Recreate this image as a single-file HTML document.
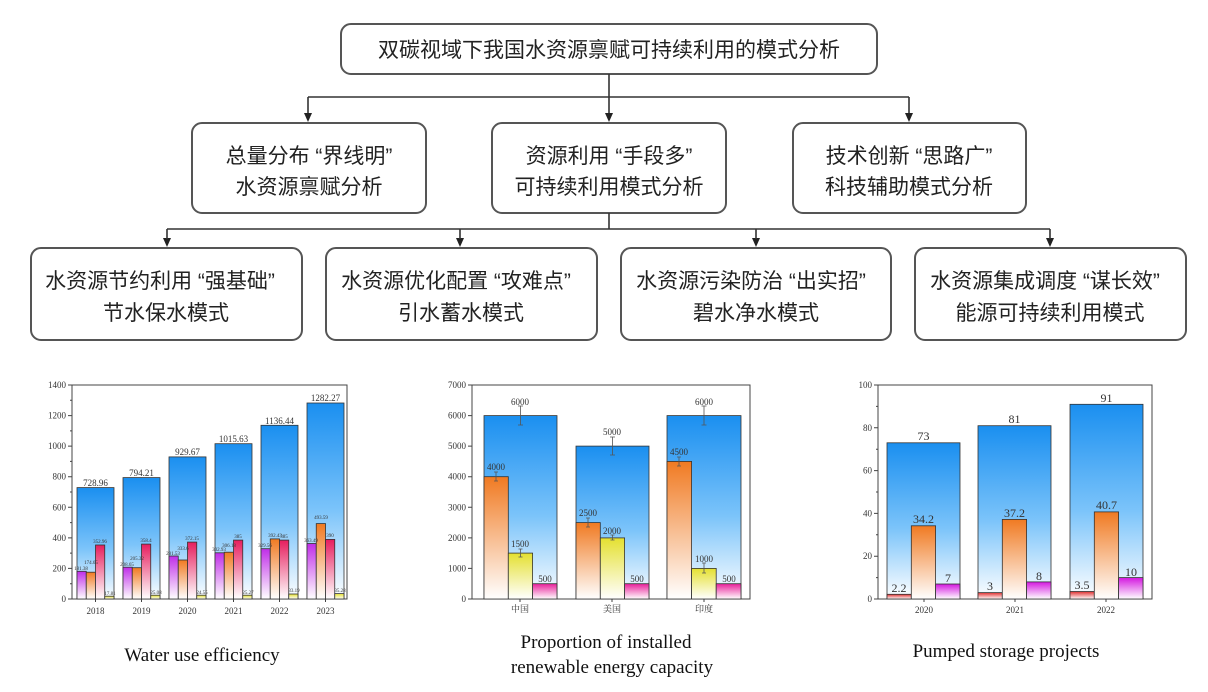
<!DOCTYPE html>
<html><head><meta charset="utf-8"><style>
html,body{margin:0;padding:0;background:#fff;}
svg{display:block;}
.b{fill:#fff;stroke:#555;stroke-width:2;}
.t{font-family:"Liberation Sans","Noto Sans CJK SC",sans-serif;font-size:21px;fill:#222;text-anchor:middle;}
.ax{font-family:"Liberation Serif","Noto Serif CJK SC",serif;font-size:9px;fill:#333;}
.v{font-family:"Liberation Serif",serif;font-size:5px;fill:#333;text-anchor:middle;}
.v2{font-family:"Liberation Serif",serif;font-size:9px;fill:#333;text-anchor:middle;}
.v3{font-family:"Liberation Serif",serif;font-size:12px;fill:#333;text-anchor:middle;}
.cap{font-family:"Liberation Serif",serif;font-size:19px;fill:#111;text-anchor:middle;}
.bar{stroke:#333;stroke-width:0.8;}
.ln{stroke:#333;stroke-width:1.6;fill:none;}
</style></head><body>
<svg width="1208" height="692" viewBox="0 0 1208 692" xmlns="http://www.w3.org/2000/svg">
<defs>
<linearGradient id="gB" x1="0" y1="0" x2="0" y2="1"><stop offset="0" stop-color="#1a8ff0"/><stop offset="0.55" stop-color="#7cc4fa"/><stop offset="1" stop-color="#ffffff"/></linearGradient>
<linearGradient id="gO" x1="0" y1="0" x2="0" y2="1"><stop offset="0" stop-color="#f07a22"/><stop offset="1" stop-color="#ffffff"/></linearGradient>
<linearGradient id="gP" x1="0" y1="0" x2="0" y2="1"><stop offset="0" stop-color="#c02ee8"/><stop offset="1" stop-color="#ffffff"/></linearGradient>
<linearGradient id="gR" x1="0" y1="0" x2="0" y2="1"><stop offset="0" stop-color="#e61e5e"/><stop offset="1" stop-color="#ffffff"/></linearGradient>
<linearGradient id="gY" x1="0" y1="0" x2="0" y2="1"><stop offset="0" stop-color="#e4e030"/><stop offset="1" stop-color="#ffffff"/></linearGradient>
<linearGradient id="gK" x1="0" y1="0" x2="0" y2="1"><stop offset="0" stop-color="#e8209a"/><stop offset="1" stop-color="#ffffff"/></linearGradient>
<linearGradient id="gM" x1="0" y1="0" x2="0" y2="1"><stop offset="0" stop-color="#d418e0"/><stop offset="1" stop-color="#ffffff"/></linearGradient>
<linearGradient id="gS" x1="0" y1="0" x2="0" y2="1"><stop offset="0" stop-color="#e03030"/><stop offset="1" stop-color="#ffffff"/></linearGradient>
</defs>

<!-- flowchart -->
<rect class="b" x="341" y="24" width="536" height="50" rx="10"/>
<text class="t" x="609" y="57" font-size="22">双碳视域下我国水资源禀赋可持续利用的模式分析</text>
<path class="ln" d="M609 74 V114"/>
<path class="ln" d="M308 97 H909"/>
<path class="ln" d="M308 97 V114"/>
<path class="ln" d="M909 97 V114"/>
<g fill="#222">
<polygon points="304,113 312,113 308,122"/>
<polygon points="605,113 613,113 609,122"/>
<polygon points="905,113 913,113 909,122"/>
<polygon points="163,238 171,238 167,247"/>
<polygon points="456,238 464,238 460,247"/>
<polygon points="752,238 760,238 756,247"/>
<polygon points="1046,238 1054,238 1050,247"/>
</g>

<rect class="b" x="192" y="123" width="234" height="90" rx="10"/>
<text class="t" x="309" y="163">总量分布 “界线明”</text>
<text class="t" x="309" y="194">水资源禀赋分析</text>
<rect class="b" x="492" y="123" width="234" height="90" rx="10"/>
<text class="t" x="609" y="163">资源利用 “手段多”</text>
<text class="t" x="609" y="194">可持续利用模式分析</text>
<rect class="b" x="793" y="123" width="233" height="90" rx="10"/>
<text class="t" x="909" y="163">技术创新 “思路广”</text>
<text class="t" x="909" y="194">科技辅助模式分析</text>

<path class="ln" d="M609 213 V229"/>
<path class="ln" d="M167 229 H1050"/>
<path class="ln" d="M167 229 V239M460 229 V239M756 229 V239M1050 229 V239"/>

<rect class="b" x="31" y="248" width="271" height="92" rx="10"/>
<text class="t" x="160" y="288">水资源节约利用 “强基础”</text>
<text class="t" x="166" y="320">节水保水模式</text>
<rect class="b" x="326" y="248" width="271" height="92" rx="10"/>
<text class="t" x="456" y="288">水资源优化配置 “攻难点”</text>
<text class="t" x="461" y="320">引水蓄水模式</text>
<rect class="b" x="621" y="248" width="270" height="92" rx="10"/>
<text class="t" x="751" y="288">水资源污染防治 “出实招”</text>
<text class="t" x="756" y="320">碧水净水模式</text>
<rect class="b" x="915" y="248" width="271" height="92" rx="10"/>
<text class="t" x="1045" y="288">水资源集成调度 “谋长效”</text>
<text class="t" x="1050" y="320">能源可持续利用模式</text>

<!-- Chart 1 -->
<g>
<rect x="72" y="385" width="275" height="214" fill="none" stroke="#444" stroke-width="1"/>
<g stroke="#444" stroke-width="1">
<path d="M72 599h-4M72 568.4h-4M72 537.9h-4M72 507.3h-4M72 476.7h-4M72 446.1h-4M72 415.6h-4M72 385h-4"/>
<path d="M72 583.7h-2M72 553.1h-2M72 522.6h-2M72 492h-2M72 461.4h-2M72 430.9h-2M72 400.3h-2"/>
<path d="M95.5 599v3M141.5 599v3M187.5 599v3M233.5 599v3M279.5 599v3M325.5 599v3"/>
</g>
<g class="ax" text-anchor="end">
<text x="66" y="602">0</text><text x="66" y="571.4">200</text><text x="66" y="540.9">400</text><text x="66" y="510.3">600</text><text x="66" y="479.7">800</text><text x="66" y="449.1">1000</text><text x="66" y="418.6">1200</text><text x="66" y="388">1400</text>
</g>
<g class="ax" text-anchor="middle">
<text x="95.5" y="614">2018</text><text x="141.5" y="614">2019</text><text x="187.5" y="614">2020</text><text x="233.5" y="614">2021</text><text x="279.5" y="614">2022</text><text x="325.5" y="614">2023</text>
</g>
<g class="bar">
<rect x="77" y="487.6" width="37" height="111.4" fill="url(#gB)"/>
<rect x="123" y="477.6" width="37" height="121.4" fill="url(#gB)"/>
<rect x="169" y="456.9" width="37" height="142.1" fill="url(#gB)"/>
<rect x="215" y="443.7" width="37" height="155.3" fill="url(#gB)"/>
<rect x="261" y="425.3" width="37" height="173.7" fill="url(#gB)"/>
<rect x="307" y="403" width="37" height="196" fill="url(#gB)"/>

<rect x="77" y="571.3" width="9.25" height="27.7" fill="url(#gP)"/>
<rect x="86.25" y="572.2" width="9.25" height="26.8" fill="url(#gO)"/>
<rect x="95.5" y="545" width="9.25" height="54" fill="url(#gR)"/>
<rect x="104.75" y="596.2" width="9.25" height="2.8" fill="url(#gY)"/>

<rect x="123" y="567.2" width="9.25" height="31.8" fill="url(#gP)"/>
<rect x="132.25" y="567.7" width="9.25" height="31.3" fill="url(#gO)"/>
<rect x="141.5" y="544.1" width="9.25" height="54.9" fill="url(#gR)"/>
<rect x="150.75" y="595.2" width="9.25" height="3.8" fill="url(#gY)"/>

<rect x="169" y="556" width="9.25" height="43" fill="url(#gP)"/>
<rect x="178.25" y="560" width="9.25" height="39" fill="url(#gO)"/>
<rect x="187.5" y="542.1" width="9.25" height="56.9" fill="url(#gR)"/>
<rect x="196.75" y="595.2" width="9.25" height="3.8" fill="url(#gY)"/>

<rect x="215" y="552.8" width="9.25" height="46.2" fill="url(#gP)"/>
<rect x="224.25" y="552.2" width="9.25" height="46.8" fill="url(#gO)"/>
<rect x="233.5" y="540.1" width="9.25" height="58.9" fill="url(#gR)"/>
<rect x="242.75" y="595.2" width="9.25" height="3.8" fill="url(#gY)"/>

<rect x="261" y="548.7" width="9.25" height="50.3" fill="url(#gP)"/>
<rect x="270.25" y="538.9" width="9.25" height="60.1" fill="url(#gO)"/>
<rect x="279.5" y="540.1" width="9.25" height="58.9" fill="url(#gR)"/>
<rect x="288.75" y="594" width="9.25" height="5" fill="url(#gY)"/>

<rect x="307" y="543.5" width="9.25" height="55.5" fill="url(#gP)"/>
<rect x="316.25" y="523.6" width="9.25" height="75.4" fill="url(#gO)"/>
<rect x="325.5" y="539.4" width="9.25" height="59.6" fill="url(#gR)"/>
<rect x="334.75" y="593.6" width="9.25" height="5.4" fill="url(#gY)"/>
</g>
<g class="ax" text-anchor="middle" font-size="10">
<text x="95.5" y="486">728.96</text><text x="141.5" y="476">794.21</text><text x="187.5" y="455">929.67</text><text x="233.5" y="442">1015.63</text><text x="279.5" y="424">1136.44</text><text x="325.5" y="401">1282.27</text>
</g>
<g class="v">
<text x="81" y="570">181.38</text><text x="91" y="564">174.65</text><text x="100" y="543">352.96</text><text x="110" y="595">17.81</text>
<text x="127" y="566">208.65</text><text x="137" y="560">205.32</text><text x="146" y="542">358.4</text><text x="156" y="594">25.08</text>
<text x="173" y="555">281.53</text><text x="183" y="550">333.6</text><text x="192" y="540">372.15</text><text x="202" y="594">24.55</text>
<text x="219" y="551">302.93</text><text x="229" y="547">306.18</text><text x="238" y="538">385</text><text x="248" y="594">25.27</text>
<text x="265" y="547">329.56</text><text x="275" y="537">392.43</text><text x="284" y="538">385</text><text x="294" y="592">33.19</text>
<text x="311" y="542">363.49</text><text x="321" y="519">493.59</text><text x="330" y="537">390</text><text x="340" y="592">35.28</text>
</g>
<text class="cap" x="202" y="661">Water use efficiency</text>
</g>

<!-- Chart 2 -->
<g>
<rect x="472" y="385" width="278" height="214" fill="none" stroke="#444" stroke-width="1"/>
<g stroke="#444" stroke-width="1">
<path d="M472 599h-4M472 568.4h-4M472 537.9h-4M472 507.3h-4M472 476.7h-4M472 446.1h-4M472 415.6h-4M472 385h-4"/>
<path d="M520 599v3M612 599v3M704 599v3"/>
</g>
<g class="ax" text-anchor="end">
<text x="466" y="602">0</text><text x="466" y="571.4">1000</text><text x="466" y="540.9">2000</text><text x="466" y="510.3">3000</text><text x="466" y="479.7">4000</text><text x="466" y="449.1">5000</text><text x="466" y="418.6">6000</text><text x="466" y="388">7000</text>
</g>
<g class="ax" text-anchor="middle">
<text x="520" y="612">中国</text><text x="612" y="612">美国</text><text x="704" y="612">印度</text>
</g>
<g class="bar">
<rect x="484" y="415.6" width="73" height="183.4" fill="url(#gB)"/>
<rect x="576" y="446.1" width="73" height="152.9" fill="url(#gB)"/>
<rect x="667" y="415.6" width="74" height="183.4" fill="url(#gB)"/>
<rect x="484" y="476.7" width="24.3" height="122.3" fill="url(#gO)"/>
<rect x="508.3" y="553.1" width="24.3" height="45.9" fill="url(#gY)"/>
<rect x="532.6" y="583.7" width="24.4" height="15.3" fill="url(#gK)"/>
<rect x="576" y="522.6" width="24.3" height="76.4" fill="url(#gO)"/>
<rect x="600.3" y="537.9" width="24.3" height="61.1" fill="url(#gY)"/>
<rect x="624.6" y="583.7" width="24.4" height="15.3" fill="url(#gK)"/>
<rect x="667" y="461.4" width="24.6" height="137.6" fill="url(#gO)"/>
<rect x="691.6" y="568.4" width="24.6" height="30.6" fill="url(#gY)"/>
<rect x="716.2" y="583.7" width="24.8" height="15.3" fill="url(#gK)"/>
</g>
<g stroke="#555" stroke-width="0.8">
<path d="M520.5 406v19M518 406h5M518 425h5"/>
<path d="M612.5 437v18M610 437h5M610 455h5"/>
<path d="M704 406v19M701.5 406h5M701.5 425h5"/>
<path d="M496 472v9M494 472h4M494 481h4"/>
<path d="M520.5 549v8M518.5 549h4M518.5 557h4"/>
<path d="M588 518v9M586 518h4M586 527h4"/>
<path d="M612.5 535v5M610.5 535h4M610.5 540h4"/>
<path d="M679 457v9M677 457h4M677 466h4"/>
<path d="M704 563v10M702 563h4M702 573h4"/>
</g>
<g class="v2">
<text x="520" y="405">6000</text><text x="612" y="435">5000</text><text x="704" y="405">6000</text>
<text x="496" y="470">4000</text><text x="520" y="547">1500</text><text x="545" y="582">500</text>
<text x="588" y="516">2500</text><text x="612" y="534">2000</text><text x="637" y="582">500</text>
<text x="679" y="455">4500</text><text x="704" y="562">1000</text><text x="729" y="582">500</text>
</g>
<text class="cap" x="606" y="648">Proportion of installed</text>
<text class="cap" x="612" y="673">renewable energy capacity</text>
</g>

<!-- Chart 3 -->
<g>
<rect x="878" y="385" width="274" height="214" fill="none" stroke="#444" stroke-width="1"/>
<g stroke="#444" stroke-width="1">
<path d="M878 599h-4M878 556.2h-4M878 513.4h-4M878 470.6h-4M878 427.8h-4M878 385h-4"/>
<path d="M878 577.6h-2M878 534.8h-2M878 492h-2M878 449.2h-2M878 406.4h-2"/>
<path d="M924 599v3M1015 599v3M1106 599v3"/>
</g>
<g class="ax" text-anchor="end">
<text x="872" y="602">0</text><text x="872" y="559.2">20</text><text x="872" y="516.4">40</text><text x="872" y="473.6">60</text><text x="872" y="430.8">80</text><text x="872" y="388">100</text>
</g>
<g class="ax" text-anchor="middle">
<text x="924" y="613">2020</text><text x="1015" y="613">2021</text><text x="1106" y="613">2022</text>
</g>
<g class="bar">
<rect x="887" y="442.8" width="73" height="156.2" fill="url(#gB)"/>
<rect x="978" y="425.7" width="73" height="173.3" fill="url(#gB)"/>
<rect x="1070" y="404.3" width="73" height="194.7" fill="url(#gB)"/>
<rect x="887" y="594.3" width="24.3" height="4.7" fill="url(#gS)"/>
<rect x="911.3" y="525.8" width="24.3" height="73.2" fill="url(#gO)"/>
<rect x="935.6" y="584" width="24.4" height="15" fill="url(#gM)"/>
<rect x="978" y="592.6" width="24.3" height="6.4" fill="url(#gS)"/>
<rect x="1002.3" y="519.4" width="24.3" height="79.6" fill="url(#gO)"/>
<rect x="1026.6" y="581.9" width="24.4" height="17.1" fill="url(#gM)"/>
<rect x="1070" y="591.5" width="24.3" height="7.5" fill="url(#gS)"/>
<rect x="1094.3" y="511.9" width="24.3" height="87.1" fill="url(#gO)"/>
<rect x="1118.6" y="577.6" width="24.4" height="21.4" fill="url(#gM)"/>
</g>
<g class="v3">
<text x="923.5" y="440">73</text><text x="1014.5" y="423">81</text><text x="1106.5" y="402">91</text>
<text x="899" y="592">2.2</text><text x="923.5" y="523">34.2</text><text x="948" y="582">7</text>
<text x="990" y="590">3</text><text x="1014.5" y="517">37.2</text><text x="1039" y="580">8</text>
<text x="1082" y="589">3.5</text><text x="1106.5" y="509">40.7</text><text x="1131" y="576">10</text>
</g>
<text class="cap" x="1006" y="657">Pumped storage projects</text>
</g>
</svg>
</body></html>
